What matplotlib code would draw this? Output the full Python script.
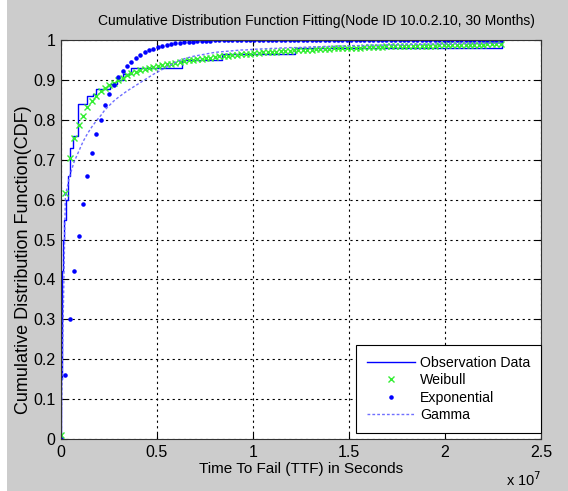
import numpy as np
from matplotlib import pyplot as plt
from matplotlib.patches import Rectangle

plt.rcParams['font.family'] = ['Liberation Sans', 'DejaVu Sans']

# evaluation grid for the fitted curves, in units of 1e7 s
ttf_max = 2.29
n_steps = 100

# observed (empirical) CDF steps, x in 1e7 s
obs_x = [0.0, 0.002, 0.006, 0.010, 0.018, 0.026, 0.038, 0.047, 0.064, 0.087,
         0.137, 0.167, 0.182, 0.255, 0.290, 0.323, 0.365, 0.630, 0.839, 1.219, 2.297]
obs_y = [0.0, 0.15, 0.42, 0.50, 0.55, 0.60, 0.66, 0.73, 0.76, 0.84,
         0.86, 0.865, 0.877, 0.89, 0.90, 0.915, 0.930, 0.950, 0.966, 0.980, 1.0]

weibull = [0.010, 0.616, 0.704, 0.754, 0.787, 0.810, 0.832, 0.847, 0.860, 0.872,
           0.880, 0.886, 0.893, 0.900, 0.906, 0.912, 0.917, 0.921, 0.925, 0.928,
           0.931, 0.933, 0.935, 0.937, 0.939, 0.941, 0.943, 0.945, 0.947, 0.949,
           0.950, 0.952, 0.953, 0.955, 0.956, 0.958, 0.959, 0.960, 0.961, 0.962,
           0.963, 0.964, 0.965, 0.966, 0.967, 0.968, 0.969, 0.970, 0.971, 0.971,
           0.972, 0.973, 0.973, 0.974, 0.974, 0.975, 0.976, 0.976, 0.977, 0.977,
           0.978, 0.978, 0.979, 0.979, 0.980, 0.980, 0.981, 0.981, 0.981, 0.982,
           0.982, 0.983, 0.983, 0.983, 0.984, 0.984, 0.984, 0.985, 0.985, 0.985,
           0.985, 0.986, 0.986, 0.986, 0.986, 0.986, 0.987, 0.987, 0.987, 0.987,
           0.987, 0.988, 0.988, 0.988, 0.988, 0.988, 0.988, 0.989, 0.989, 0.989, 0.989]

exponential = [0.0, 0.160, 0.300, 0.420, 0.510, 0.590, 0.660, 0.716, 0.764, 0.800,
               0.837, 0.864, 0.887, 0.907, 0.922, 0.935, 0.946, 0.955, 0.962, 0.969,
               0.974, 0.978, 0.982, 0.985, 0.988, 0.990, 0.992, 0.993, 0.994, 0.995,
               0.996, 0.997, 0.997, 0.998, 0.998, 0.999, 0.999, 0.999, 0.999, 0.999,
               0.999, 1.0, 1.0, 1.0, 1.0, 1.0, 1.0, 1.0, 1.0, 1.0,
               1.0, 1.0, 1.0, 1.0, 1.0, 1.0, 1.0, 1.0, 1.0, 1.0,
               1.0, 1.0, 1.0, 1.0, 1.0, 1.0, 1.0, 1.0, 1.0, 1.0,
               1.0, 1.0, 1.0, 1.0, 1.0, 1.0, 1.0, 1.0, 1.0, 1.0,
               1.0, 1.0, 1.0, 1.0, 1.0, 1.0, 1.0, 1.0, 1.0, 1.0,
               1.0, 1.0, 1.0, 1.0, 1.0, 1.0, 1.0, 1.0, 1.0, 1.0, 1.0]

gamma = [0.0, 0.610, 0.660, 0.695, 0.720, 0.745, 0.765, 0.782, 0.797, 0.810,
         0.825, 0.836, 0.847, 0.856, 0.864, 0.872, 0.879, 0.886, 0.893, 0.900,
         0.907, 0.914, 0.920, 0.926, 0.932, 0.938, 0.944, 0.949, 0.953, 0.956,
         0.959, 0.961, 0.963, 0.965, 0.967, 0.969, 0.970, 0.971, 0.972, 0.973,
         0.974, 0.975, 0.975, 0.976, 0.977, 0.977, 0.978, 0.978, 0.979, 0.979,
         0.980, 0.980, 0.981, 0.981, 0.981, 0.982, 0.982, 0.983, 0.983, 0.983,
         0.984, 0.984, 0.984, 0.985, 0.985, 0.985, 0.986, 0.986, 0.986, 0.986,
         0.987, 0.987, 0.987, 0.987, 0.988, 0.988, 0.988, 0.988, 0.988, 0.989,
         0.989, 0.989, 0.989, 0.989, 0.990, 0.990, 0.990, 0.990, 0.990, 0.990,
         0.991, 0.991, 0.991, 0.991, 0.991, 0.991, 0.992, 0.992, 0.992, 0.992, 0.992]

x_fit = np.linspace(0, ttf_max, n_steps + 1)

fig = plt.figure(figsize=(5.68, 4.91), dpi=100, facecolor='#cccccc')
fig.patches.append(Rectangle((0, 0), 7 / 568, 1, transform=fig.transFigure,
                             facecolor='white', edgecolor='none'))
ax = fig.add_axes([61 / 568, 52 / 491, 480 / 568, 399 / 491])

ax.step(obs_x, obs_y, where='post', color='#0000ff', lw=1.0, label='Observation Data')
ax.plot(x_fit, weibull, 'x', color='#33ee33', ms=5, mew=1.0, label='Weibull')
ax.plot(x_fit, exponential, '.', color='#0000ff', ms=4.5, label='Exponential')
ax.plot(x_fit, gamma, color='#6f6fff', lw=1.0, dashes=(2, 1.5), label='Gamma')

ax.set_xlim(0, 2.5)
ax.set_ylim(0, 1)
ax.set_xticks([0, 0.5, 1, 1.5, 2, 2.5])
ax.set_xticklabels(['0', '0.5', '1', '1.5', '2', '2.5'])
ax.set_yticks(np.arange(0, 1.01, 0.1))
ax.set_yticklabels(['0', '0.1', '0.2', '0.3', '0.4', '0.5', '0.6', '0.7', '0.8', '0.9', '1'])
ax.tick_params(direction='in', top=True, right=True, labelsize=11.5, length=4, pad=4)
ax.grid(True, color='black', linestyle=(0, (2, 3)), lw=0.8)
for s in ax.spines.values():
    s.set_color('#333333')

ax.set_title('Cumulative Distribution Function Fitting(Node ID 10.0.2.10, 30 Months)',
             fontsize=10, pad=11, x=0.533)
ax.set_xlabel('Time To Fail (TTF) in Seconds', fontsize=11, labelpad=2)
ax.set_ylabel('Cumulative Distribution Function(CDF)', fontsize=13)
ax.yaxis.set_label_coords(-0.061, 0.45)
ax.text(1.0, -0.078, 'x 10$^7$', transform=ax.transAxes, ha='right', va='top', fontsize=10.5)

leg = ax.legend(loc='lower right', bbox_to_anchor=(1.0, 0.015), borderaxespad=0,
                fancybox=False, framealpha=1, edgecolor='black', fontsize=10.2,
                handlelength=3.4, labelspacing=0.25, borderpad=0.75, handletextpad=0.35)
leg.get_frame().set_linewidth(0.8)

plt.savefig('out.png', dpi=100, facecolor=fig.get_facecolor())
